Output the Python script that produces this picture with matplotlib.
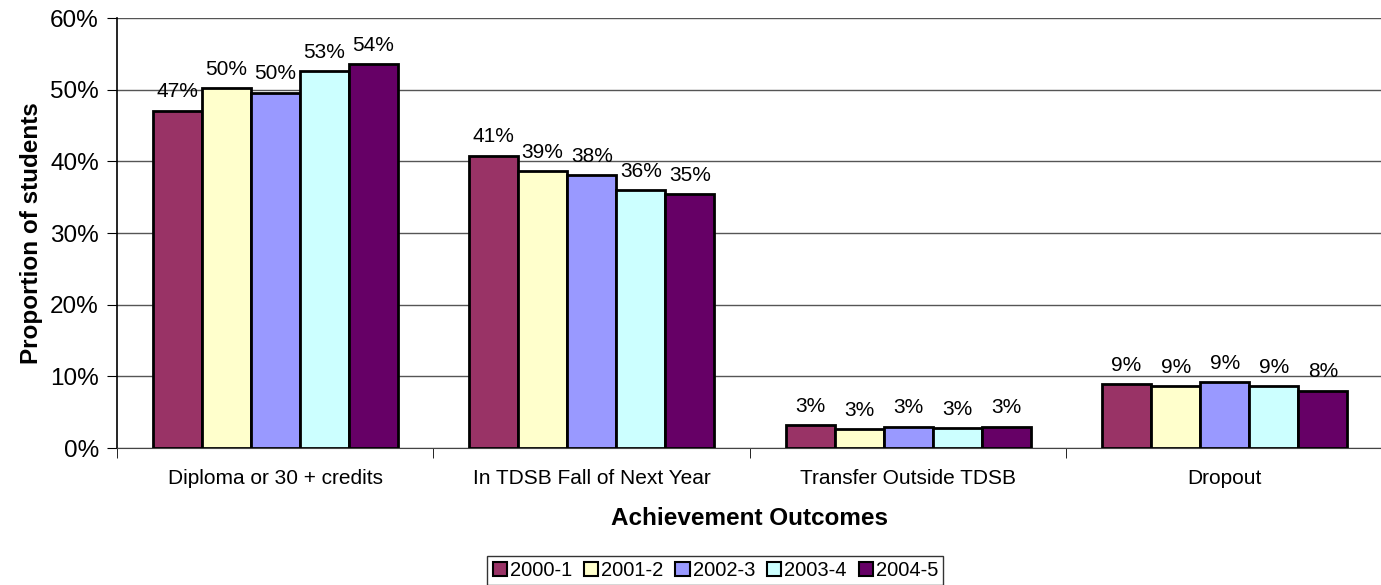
import matplotlib.pyplot as plt
import numpy as np
from matplotlib.ticker import PercentFormatter
from matplotlib.patches import Patch

plt.rcParams['font.family'] = ['Liberation Sans', 'DejaVu Sans']

# outcome categories and school-year cohorts
categories = ['Diploma or 30 + credits', 'In TDSB Fall of Next Year',
              'Transfer Outside TDSB', 'Dropout']
years = ['2000-1', '2001-2', '2002-3', '2003-4', '2004-5']

# proportion of students (%) per cohort, one list per year
y2000 = [47.1, 40.8, 3.2, 8.9]
y2001 = [50.2, 38.6, 2.6, 8.6]
y2002 = [49.6, 38.1, 3.0, 9.2]
y2003 = [52.6, 36.0, 2.8, 8.6]
y2004 = [53.6, 35.4, 3.0, 8.0]
series = [y2000, y2001, y2002, y2003, y2004]

colors = ['#993366', '#FFFFCC', '#9999FF', '#CCFFFF', '#660066']

fig = plt.figure(figsize=(13.81, 5.85), dpi=100)
ax = fig.add_axes([0.0847, 0.234, 0.9167, 0.735])

x = np.arange(len(categories))
w = 0.155
for i, (vals, c) in enumerate(zip(series, colors)):
    pos = x + (i - 2) * w
    ax.bar(pos, vals, width=w, color=c, edgecolor='black', linewidth=2, zorder=3)
    for p, v in zip(pos, vals):
        ax.text(p, v + 1.3, f'{round(v):d}%', ha='center', va='bottom', fontsize=15)

ax.set_xlim(-0.5, len(categories) - 0.5)
ax.set_ylim(0, 60)
ax.set_yticks(np.arange(0, 61, 10))
ax.yaxis.set_major_formatter(PercentFormatter(decimals=0))
ax.grid(axis='y', color='#555555', linewidth=1, zorder=0)

ax.set_xticks(x)
ax.set_xticklabels(categories, fontsize=15)
ax.set_xticks(np.arange(-0.5, len(categories), 1), minor=True)
ax.tick_params(axis='x', which='major', length=0, pad=15)
ax.tick_params(axis='x', which='minor', length=7, direction='out')
ax.tick_params(axis='y', labelsize=17.5, length=7, direction='out', pad=6)

for s in ['top', 'right']:
    ax.spines[s].set_visible(False)
ax.spines['left'].set_linewidth(1.2)
ax.spines['bottom'].set_color('#444444')

ax.set_xlabel('Achievement Outcomes', fontsize=17.5, fontweight='bold', labelpad=14)
ax.set_ylabel('Proportion of students', fontsize=17.5, fontweight='bold', labelpad=5)

handles = [Patch(facecolor=c, edgecolor='black', linewidth=1.5) for c in colors]
leg = fig.legend(handles, years, loc='lower center', bbox_to_anchor=(0.518, -0.018),
                 ncol=5, fontsize=14.5, frameon=True, fancybox=False,
                 handlelength=0.7, handleheight=0.7, handletextpad=0.15,
                 columnspacing=0.6, borderpad=0.25, edgecolor='black')
leg.get_frame().set_linewidth(1)

fig.savefig('out.png', dpi=100)
